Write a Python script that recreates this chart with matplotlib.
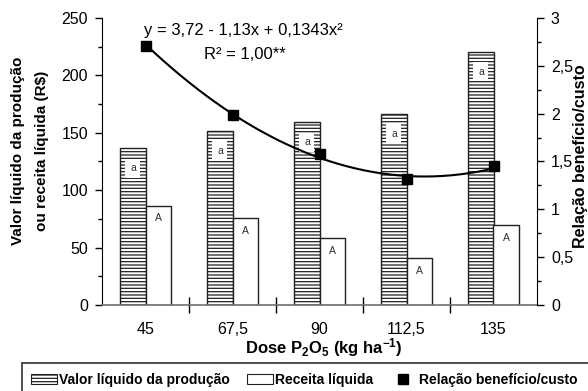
import matplotlib
matplotlib.use("Agg")
import matplotlib.pyplot as plt
import numpy as np
from matplotlib.patches import Rectangle, Patch
from matplotlib.lines import Line2D
from matplotlib.ticker import MultipleLocator

plt.rcParams['font.family'] = ['Liberation Sans', 'DejaVu Sans']
plt.rcParams['mathtext.fontset'] = 'custom'
plt.rcParams['mathtext.rm'] = 'Liberation Sans:bold'
plt.rcParams['mathtext.default'] = 'rm'
plt.rcParams['hatch.linewidth'] = 0.9

doses = ["45", "67,5", "90", "112,5", "135"]
valor_liquido = [136.5, 151.6, 159.1, 166.6, 220.7]
receita_liquida = [86.5, 75.8, 58.1, 40.7, 69.7]
relacao_bc = [2.71, 1.99, 1.575, 1.314, 1.456]
letters_valor = ["a", "a", "a", "a", "a"]
letters_receita = ["A", "A", "A", "A", "A"]
coef = [3.72, -1.13, 0.1343]
left_ticks = [0, 50, 100, 150, 200, 250]
right_ticks = [0, 0.5, 1, 1.5, 2, 2.5, 3]
right_ticklabels = ["0", "0,5", "1", "1,5", "2", "2,5", "3"]

fig = plt.figure(figsize=(5.88, 3.91), dpi=100)
ax = fig.add_axes([102/588, 1-305/391, (537-102)/588, (305-18)/391])

x = np.arange(len(doses))
w = 0.29
ax.bar(x - w/2, valor_liquido, w, color='white', edgecolor='#202020',
       hatch='-----', linewidth=1.0, zorder=2)
ax.bar(x + w/2, receita_liquida, w, color='white', edgecolor='#202020',
       linewidth=1.0, zorder=2)
for i in range(len(doses)):
    ax.text(x[i] - w/2, valor_liquido[i] - 17.5, letters_valor[i], ha='center', va='center',
            fontsize=7.5, color='#303030', zorder=3,
            bbox=dict(boxstyle='square,pad=0.45', fc='white', ec='none'))
    ax.text(x[i] + w/2, receita_liquida[i] - 11, letters_receita[i], ha='center', va='center',
            fontsize=7.5, color='#303030', zorder=3)

ax.set_xlim(-0.5, len(doses) - 0.5)
ax.set_ylim(0, 250)
ax.set_yticks(left_ticks)
ax.yaxis.set_minor_locator(MultipleLocator(25))
ax.tick_params(axis='y', which='major', direction='out', length=5, width=1, labelsize=11.5, pad=5)
ax.tick_params(axis='y', which='minor', direction='out', length=3, width=1)
ax.set_xticks(np.arange(len(doses) - 1) + 0.5)
ax.set_xticklabels([])
ax.set_xticks(x, minor=True)
ax.set_xticklabels(doses, minor=True)
ax.tick_params(axis='x', which='major', direction='inout', length=11, width=1)
ax.tick_params(axis='x', which='minor', length=0, labelsize=11.5, pad=12)
ax.spines['top'].set_visible(False)
ax.spines['right'].set_visible(False)
ax.spines['bottom'].set_color('#707070')
ax.spines['bottom'].set_linewidth(1.2)
ax.set_xlabel("Dose P$_2$O$_5$ (kg ha$^{-1}$)", fontsize=12, fontweight='bold')
ax.xaxis.set_label_coords(0.51, -0.11)

fig.text(18/588, 1-151/391, "Valor líquido da produção", rotation=90, ha='center',
         va='center', fontsize=11, fontweight='bold')
fig.text(42/588, 1-151/391, "ou receita líquida (R$)", rotation=90, ha='center',
         va='center', fontsize=11, fontweight='bold')

ax2 = ax.twinx()
ax2.set_ylim(0, 3)
ax2.set_yticks(right_ticks)
ax2.set_yticklabels(right_ticklabels)
ax2.yaxis.set_minor_locator(MultipleLocator(0.25))
ax2.tick_params(axis='y', which='major', direction='out', length=5, width=1, labelsize=11.5, pad=5)
ax2.tick_params(axis='y', which='minor', direction='out', length=3, width=1)
for s in ['top', 'left', 'bottom']:
    ax2.spines[s].set_visible(False)
fig.text(581/588, 1-156/391, "Relação benefício/custo", rotation=90, ha='center',
         va='center', fontsize=11.5, fontweight='bold')

xx = np.linspace(1, len(doses), 200)
yy = coef[0] + coef[1]*xx + coef[2]*xx**2
ax2.plot(xx - 1, yy, color='black', lw=1.5, zorder=4)
ax2.plot(x, relacao_bc, ls='none', marker='s', ms=7, color='black', zorder=5)

ax.text(0.326, 0.958, "y = 3,72 - 1,13x + 0,1343x²", transform=ax.transAxes,
        ha='center', va='center', fontsize=12)
ax.text(0.328, 0.873, "R² = 1,00**", transform=ax.transAxes,
        ha='center', va='center', fontsize=12)

fig.add_artist(Rectangle((22/588, -0.1), 1.0, 0.1 + (1-363/391), transform=fig.transFigure,
                         fill=False, edgecolor='#303030', lw=1.2, clip_on=False))
handles = [Patch(facecolor='white', edgecolor='#202020', hatch='-----', lw=0.8),
           Patch(facecolor='white', edgecolor='#202020', lw=0.8),
           Line2D([], [], ls='none', marker='s', ms=7, color='black')]
labels = ["Valor líquido da produção", "Receita líquida", "Relação benefício/custo"]
fig.legend(handles, labels, loc='center left', bbox_to_anchor=(31/588, 1-380/391), ncol=3,
           frameon=False, prop=dict(weight='bold', size=10), handlelength=1.9,
           handletextpad=0.15, columnspacing=1.2, borderaxespad=0, borderpad=0)

fig.savefig("out.png", dpi=100)
